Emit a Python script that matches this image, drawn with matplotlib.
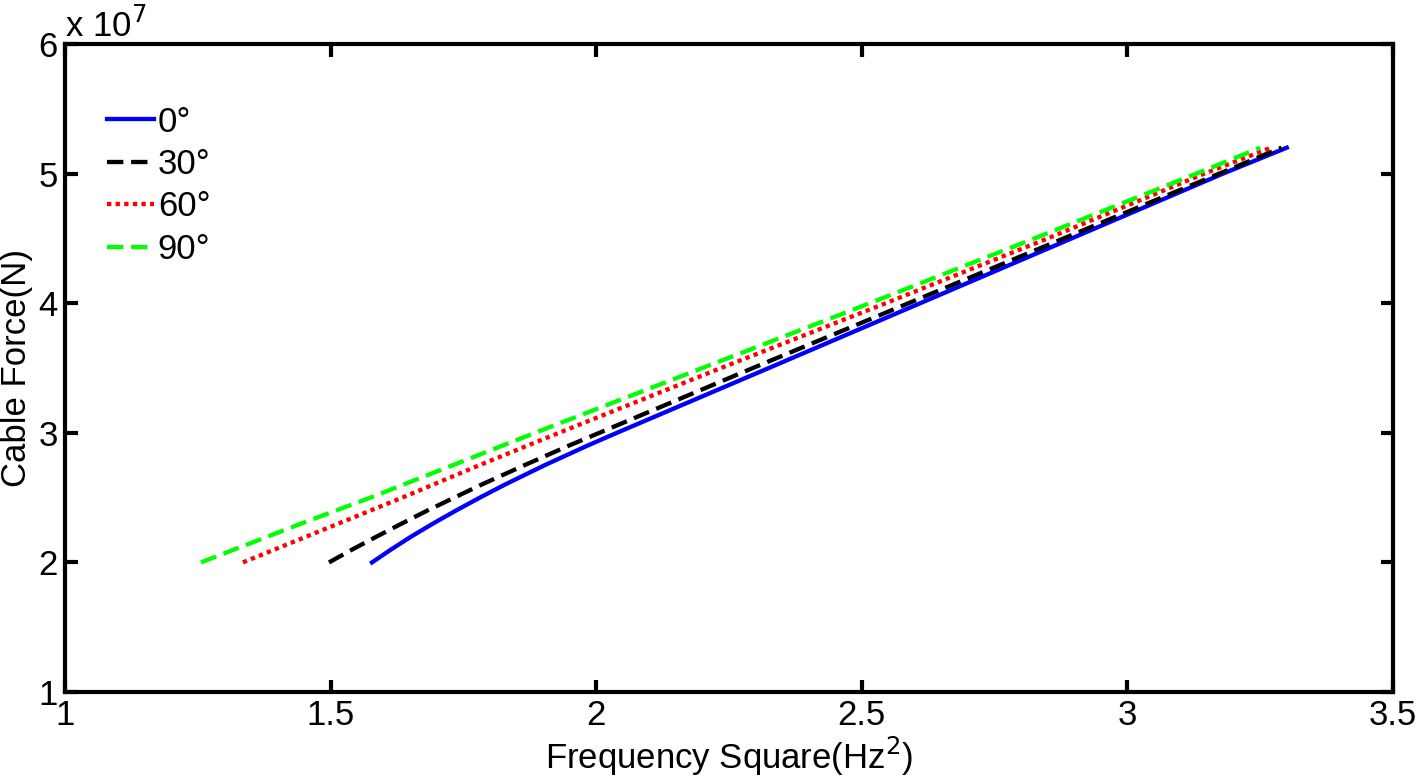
import matplotlib
matplotlib.use('Agg')
import matplotlib.pyplot as plt
import matplotlib.ticker as mticker
import numpy as np

plt.rcParams['font.family'] = ['Liberation Sans', 'DejaVu Sans']
plt.rcParams['font.size'] = 25

# cable force (N) and the matching frequency square (Hz^2) per inclination angle
force = np.array([2.0, 2.1, 2.2, 2.3, 2.4, 2.5, 2.6, 2.75, 2.9, 3.0,
                  3.5, 4.0, 4.5, 5.0, 5.2]) * 1e7
f2_0 = [1.578, 1.614, 1.652, 1.693, 1.736, 1.781, 1.828, 1.903, 1.983, 2.039,
        2.325, 2.61, 2.895, 3.18, 3.30]
f2_30 = [1.497, 1.541, 1.587, 1.634, 1.682, 1.733, 1.784, 1.865, 1.948, 2.006,
         2.295, 2.588, 2.88, 3.173, 3.29]
f2_60 = [1.335, 1.395, 1.455, 1.515, 1.575, 1.635, 1.693, 1.78, 1.87, 1.93,
         2.235, 2.545, 2.85, 3.145, 3.27]
f2_90 = [1.256, 1.319, 1.382, 1.445, 1.51, 1.575, 1.637, 1.73, 1.823, 1.885,
         2.20, 2.515, 2.825, 3.13, 3.25]
labels = ['0°', '30°', '60°', '90°']

x_ticks = [1, 1.5, 2, 2.5, 3, 3.5]
y_ticks = np.array([1, 2, 3, 4, 5, 6]) * 1e7

fig = plt.figure(figsize=(14.18, 7.83), dpi=100)
ax = fig.add_axes([0.0458, 0.1162, 0.9366, 0.8276])

ax.plot(f2_0, force, color='#0000ff', lw=3.1, linestyle='-', label=labels[0])
ax.plot(f2_30, force, color='black', lw=3.1, linestyle=(0, (3.8, 1.8)), label=labels[1])
ax.plot(f2_60, force, color='#ff0000', lw=3.1, linestyle=(0, (1.0, 1.0)), label=labels[2])
ax.plot(f2_90, force, color='#00ff00', lw=3.1, linestyle=(0, (3.8, 1.8)), label=labels[3])

ax.set_xlim(1, 3.5)
ax.set_ylim(1e7, 6e7)
ax.set_xticks(x_ticks)
ax.set_yticks(y_ticks)
ax.xaxis.set_major_formatter(mticker.FuncFormatter(lambda v, p: '%g' % v))
ax.yaxis.set_major_formatter(mticker.FuncFormatter(lambda v, p: '%g' % (v / 1e7)))

for s in ax.spines.values():
    s.set_linewidth(3)
ax.tick_params(direction='in', length=9, width=3, top=True, right=True, labelsize=25, pad=5)

ax.text(0.0, 1.0, r'x 10$^7$', transform=ax.transAxes, fontsize=25, ha='left', va='bottom')

ax.set_xlabel('Frequency Square(Hz$^2$)', fontsize=25, labelpad=2)
ax.set_ylabel('Cable Force(N)', fontsize=25, labelpad=4)

ax.legend(loc='upper left', bbox_to_anchor=(0.032, 0.905), frameon=False, fontsize=25,
          handlelength=1.35, handletextpad=0.1, labelspacing=0.27, borderaxespad=0, borderpad=0)

fig.savefig('out.png', dpi=100)
